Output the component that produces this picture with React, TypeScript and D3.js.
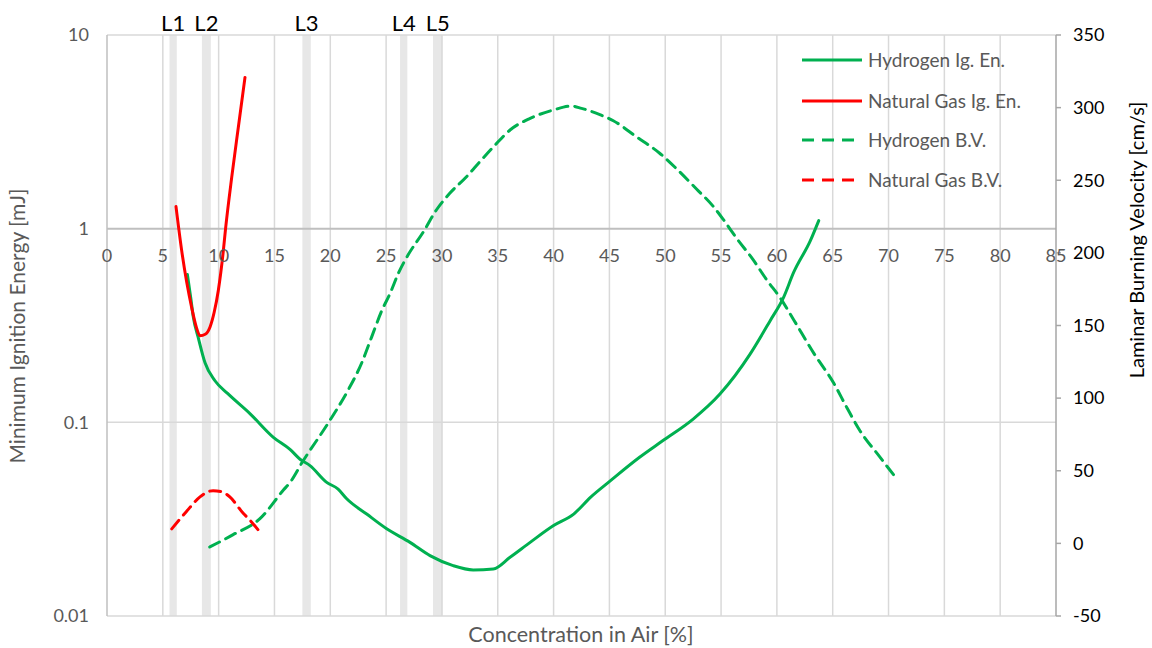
import React from "react";
import * as d3 from "d3";

// ---------- data ----------
const h2IgX = [7.2, 7.5, 7.73, 8.2, 8.78, 9.67, 10.8, 12.8, 14.9, 16.39, 17.29, 18.18, 19.68, 20.7, 21.47, 23.26, 25.05, 27.14, 28.93, 31, 32.8, 34.6, 36.1, 37.9, 40, 41.8, 43.3, 45.1, 47.7, 49.8, 52.5, 54.9, 57.6, 59.4, 60.6, 61.5, 63, 63.75];
const h2IgY = [0.58, 0.44, 0.35, 0.27, 0.203, 0.164, 0.141, 0.111, 0.0837, 0.0725, 0.0645, 0.0598, 0.049, 0.0452, 0.0403, 0.0336, 0.0282, 0.024, 0.0205, 0.0182, 0.0173, 0.0175, 0.0201, 0.024, 0.0293, 0.0336, 0.041, 0.05, 0.066, 0.0805, 0.104, 0.14, 0.225, 0.335, 0.442, 0.594, 0.867, 1.1];

const ngIgX = [6.18, 6.69, 7.59, 8.0, 8.33, 8.8, 9.22, 9.6, 9.97, 10.4, 10.62, 11.17, 11.76, 12.36];
const ngIgY = [1.3, 0.77, 0.39, 0.31, 0.28, 0.285, 0.31, 0.37, 0.48, 0.75, 1.0, 1.84, 3.33, 6.04];

const h2BvX = [9.2, 11.3, 13.7, 15.8, 16.4, 17.5, 19.8, 21.6, 22.8, 23.7, 24.6, 25.35, 26.1, 27, 28.3, 29.5, 30.7, 32.2, 33.4, 34.9, 36.1, 37.9, 40, 41.6, 42.5, 44.2, 45.35, 47.4, 49.5, 51, 52.8, 54.3, 55.2, 56.4, 57.9, 59.1, 60.3, 61.5, 63.3, 65.1, 66.3, 67.4, 69.2, 70.7];
const h2BvY = [-2.5, 6, 17, 36.7, 42, 56, 82.7, 105.6, 124, 142, 160, 172, 186, 199, 214, 229.5, 241, 252.4, 262.8, 275.4, 284.6, 292.6, 298.4, 301.1, 299.5, 295, 291, 280, 268.6, 258, 244, 232, 223, 210, 195, 181.3, 169, 154, 131, 110.2, 93, 78.1, 59.7, 44.8];

const ngBvX = [5.8, 7.1, 8.33, 9.5, 10.3, 11.0, 12.2, 12.8, 13.6];
const ngBvY = [10, 21.8, 32, 36.3, 35.5, 32, 20.7, 16, 8.7];

const bandLabels = ["L1", "L2", "L3", "L4", "L5"];
const bandStart = [5.6, 8.5, 17.5, 26.25, 29.2];
const bandEnd = [6.25, 9.3, 18.25, 26.9, 30.05];

const xTicks = d3.range(0, 86, 5);
const leftTicks = [0.01, 0.1, 1, 10];
const leftTickLabels = ["0.01", "0.1", "1", "10"];
const rightTicks = [-50, 0, 50, 100, 150, 200, 250, 300, 350];

const legendNames = ["Hydrogen Ig. En.", "Natural Gas Ig. En.", "Hydrogen B.V.", "Natural Gas B.V."];

// ---------- layout ----------
const W = 1152, H = 648;
const L = 107, R = 1056, T = 35, B = 616;
const GREEN = "#00B050", RED = "#FF0000";
const FONT = "Lato, 'Noto Sans', sans-serif";
const GRID = "#d9d9d9";
const GREYTXT = "#595959";

export default function App() {
  const x = d3.scaleLinear().domain([0, 85]).range([L, R]);
  const yL = d3.scaleLog().domain([0.01, 10]).range([B, T]);
  const yR = d3.scaleLinear().domain([-50, 350]).range([B, T]);

  const lineL = d3.line<[number, number]>().x(d => x(d[0])).y(d => yL(d[1])).curve(d3.curveMonotoneX);
  const lineR = d3.line<[number, number]>().x(d => x(d[0])).y(d => yR(d[1])).curve(d3.curveMonotoneX);

  const zip = (a: number[], b: number[]) => a.map((v, i) => [v, b[i]] as [number, number]);

  const series = [
    { d: lineL(zip(h2IgX, h2IgY)), c: GREEN, dash: undefined },
    { d: lineL(zip(ngIgX, ngIgY)), c: RED, dash: undefined },
    { d: lineR(zip(h2BvX, h2BvY)), c: GREEN, dash: "11,7" },
    { d: lineR(zip(ngBvX, ngBvY)), c: RED, dash: "11,7" },
  ];
  const legendColors = [GREEN, RED, GREEN, RED];
  const legendDash = [undefined, undefined, "12,8", "12,8"];
  const legendY = [60, 101, 140, 180];

  return (
    <svg width={W} height={H} style={{ position: "absolute", left: 0, top: 0, background: "#fff" }} fontFamily={FONT}>
      {bandStart.map((s, i) => (
        <rect key={"b" + i} x={x(s)} y={T} width={x(bandEnd[i]) - x(s)} height={B - T} fill="#e7e7e7" />
      ))}
      {xTicks.filter(t => t > 0 && t < 85).map(t => (
        <line key={"vg" + t} x1={x(t)} x2={x(t)} y1={T} y2={B} stroke={GRID} strokeWidth={1.5} />
      ))}
      {leftTicks.map(t => (
        <line key={"hg" + t} x1={L} x2={R} y1={yL(t)} y2={yL(t)} stroke={t === 1 ? "#bfbfbf" : GRID} strokeWidth={t === 1 ? 2 : 1.5} />
      ))}
      <line x1={L} x2={L} y1={T} y2={B} stroke="#bfbfbf" strokeWidth={1.5} />
      <line x1={R} x2={R} y1={T} y2={B} stroke="#a6a6a6" strokeWidth={1.5} />
      {rightTicks.map(t => (
        <line key={"rt" + t} x1={R} x2={R + 5} y1={yR(t)} y2={yR(t)} stroke="#a6a6a6" strokeWidth={1.5} />
      ))}
      {bandLabels.map((lab, i) => (
        <text key={"bl" + i} x={x((bandStart[i] + bandEnd[i]) / 2)} y={31} textAnchor="middle" fontSize={22} fill="#000">{lab}</text>
      ))}
      {series.map((s, i) => (
        <path key={"s" + i} d={s.d || ""} fill="none" stroke={s.c} strokeWidth={3} strokeDasharray={s.dash} strokeLinecap="round" />
      ))}
      {xTicks.map(t => (
        <text key={"xt" + t} x={x(t)} y={262} textAnchor="middle" fontSize={18} fill={GREYTXT}>{t}</text>
      ))}
      {leftTicks.map((t, i) => (
        <text key={"lt" + t} x={89} y={yL(t)} dy="0.35em" textAnchor="end" fontSize={18} fill={GREYTXT}>{leftTickLabels[i]}</text>
      ))}
      {rightTicks.map(t => (
        <text key={"rl" + t} x={1073} y={yR(t)} dy="0.35em" textAnchor="start" fontSize={18} fill="#000">{t}</text>
      ))}
      <text transform={`translate(25,${326}) rotate(-90)`} textAnchor="middle" fontSize={21} fill={GREYTXT}>Minimum Ignition Energy [mJ]</text>
      <text transform={`translate(1144,${240}) rotate(-90)`} textAnchor="middle" fontSize={20} fill="#000">Laminar Burning Velocity [cm/s]</text>
      <text x={581} y={642} textAnchor="middle" fontSize={21.5} fill={GREYTXT}>Concentration in Air [%]</text>
      {legendNames.map((n, i) => (
        <g key={"lg" + i}>
          <line x1={802} x2={862} y1={legendY[i]} y2={legendY[i]} stroke={legendColors[i]} strokeWidth={3} strokeDasharray={legendDash[i]} />
          <text x={868} y={legendY[i]} dy="0.35em" fontSize={19} fill={GREYTXT}>{n}</text>
        </g>
      ))}
    </svg>
  );
}
